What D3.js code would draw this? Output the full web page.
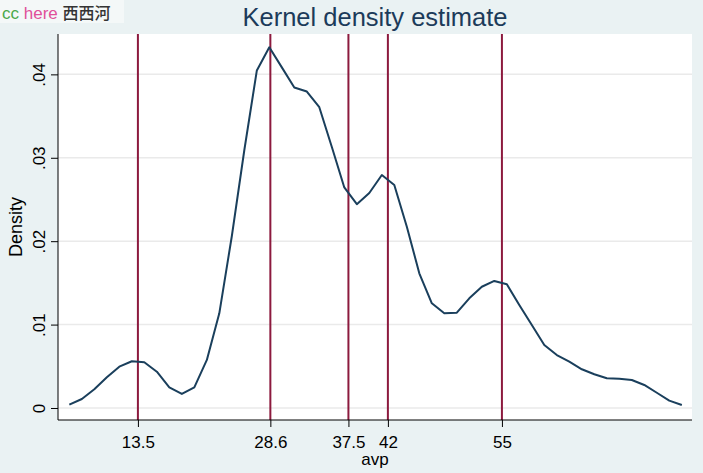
<!DOCTYPE html>
<html>
<head>
<meta charset="utf-8">
<script src="https://cdn.jsdelivr.net/npm/d3@7"></script>
<style>
  html, body { margin: 0; padding: 0; background: #eaf2f3; }
  svg { display: block; }
  text { font-family: "Liberation Sans", Arial, sans-serif; }
</style>
</head>
<body>
<svg id="chart" width="703" height="473"></svg>
<script>
// ---- data ----
const avp = [5.68, 7.11, 8.53, 9.96, 11.38, 12.81, 14.23, 15.66, 17.08, 18.51,
  19.93, 21.36, 22.78, 24.21, 25.63, 27.06, 28.48, 29.91, 31.33, 32.76,
  34.18, 35.61, 37.03, 38.46, 39.88, 41.31, 42.73, 44.16, 45.58, 47.01,
  48.43, 49.86, 51.28, 52.71, 54.13, 55.56, 56.98, 58.41, 59.83, 61.26,
  62.68, 64.11, 65.53, 66.96, 68.38, 69.81, 71.23, 72.66, 74.08, 75.51];
const density = [0.00040, 0.00108, 0.00224, 0.00368, 0.00495, 0.00560, 0.00548, 0.00435, 0.00248, 0.00168,
  0.00248, 0.00576, 0.01135, 0.02062, 0.03090, 0.04047, 0.04325, 0.04084, 0.03843, 0.03794,
  0.03606, 0.03129, 0.02644, 0.02444, 0.02578, 0.02794, 0.02674, 0.02174, 0.01615, 0.01255,
  0.01135, 0.01143, 0.01315, 0.01454, 0.01523, 0.01483, 0.01235, 0.00995, 0.00755, 0.00635,
  0.00555, 0.00464, 0.00404, 0.00356, 0.00351, 0.00336, 0.00276, 0.00183, 0.00088, 0.00036];
const xLines = [13.5, 28.6, 37.5, 42, 55];
const xTickLabels = ["13.5", "28.6", "37.5", "42", "55"];
const yTicks = [0, 0.01, 0.02, 0.03, 0.04];
const yTickLabels = ["0", ".01", ".02", ".03", ".04"];

// ---- layout ----
const svg = d3.select("#chart");
const L = 58, R = 692, T = 34, B = 420;

svg.append("rect").attr("width", 703).attr("height", 473).attr("fill", "#eaf2f3");
svg.append("rect").attr("x", L).attr("y", T).attr("width", R - L).attr("height", B - T).attr("fill", "#ffffff");

const x = d3.scaleLinear().domain([4.39, 76.67]).range([L, R]);
const y = d3.scaleLinear().domain([-0.00144, 0.04484]).range([B, T]);

// gridlines
svg.append("g").selectAll("line").data(yTicks).join("line")
  .attr("x1", L).attr("x2", R)
  .attr("y1", d => y(d)).attr("y2", d => y(d))
  .attr("stroke", "#eaeaea").attr("stroke-width", 1.5);

// vertical reference lines
svg.append("g").selectAll("line").data(xLines).join("line")
  .attr("x1", d => x(d)).attr("x2", d => x(d))
  .attr("y1", T).attr("y2", B)
  .attr("stroke", "#8c1a3e").attr("stroke-width", 2);

// density curve
const pts = avp.map((v, i) => [v, density[i]]);
svg.append("path").datum(pts)
  .attr("fill", "none").attr("stroke", "#1a3f5c").attr("stroke-width", 2)
  .attr("stroke-linejoin", "round")
  .attr("d", d3.line().x(d => x(d[0])).y(d => y(d[1])));

// y axis
const yAxis = d3.axisLeft(y).tickValues(yTicks).tickFormat((d, i) => yTickLabels[i]).tickSize(7).tickSizeOuter(0);
const gy = svg.append("g").attr("transform", `translate(${L},0)`).call(yAxis);
gy.select(".domain").attr("d", `M0,${T}V${B}`).attr("stroke", "#000");
gy.selectAll(".tick line").attr("stroke", "#000");
gy.selectAll(".tick text")
  .attr("font-size", 17).attr("fill", "#000")
  .attr("transform", "rotate(-90)")
  .attr("x", 0).attr("y", -13).attr("dy", 0)
  .attr("text-anchor", "middle");

// x axis
const xAxis = d3.axisBottom(x).tickValues(xLines).tickFormat((d, i) => xTickLabels[i]).tickSize(7).tickSizeOuter(0);
const gx = svg.append("g").attr("transform", `translate(0,${B})`).call(xAxis);
gx.select(".domain").attr("d", `M${L},0H${R}`).attr("stroke", "#000");
gx.selectAll(".tick line").attr("stroke", "#000");
gx.selectAll(".tick text").attr("font-size", 17).attr("fill", "#000").attr("y", 28).attr("dy", 0);

// axis titles
svg.append("text").attr("x", (L + R) / 2).attr("y", 465).attr("text-anchor", "middle")
  .attr("font-size", 17).attr("fill", "#000").text("avp");
svg.append("text").attr("transform", `translate(22,${(T + B) / 2}) rotate(-90)`)
  .attr("text-anchor", "middle").attr("font-size", 18).attr("fill", "#000").text("Density");

// title
svg.append("text").attr("x", (L + R) / 2).attr("y", 26).attr("text-anchor", "middle")
  .attr("font-size", 25.5).attr("fill", "#1c3b5a").text("Kernel density estimate");

// watermark
svg.append("rect").attr("x", 0).attr("y", 0).attr("width", 124).attr("height", 23).attr("fill", "#f4f8f8");
const wm = svg.append("text").attr("x", 2).attr("y", 19).attr("font-size", 17);
wm.append("tspan").attr("fill", "#4aa84a").text("cc ");
wm.append("tspan").attr("fill", "#e0509a").text("here ");
wm.append("tspan").attr("fill", "#333").attr("font-family", "Noto Sans CJK SC")
  .attr("font-size", 16).attr("font-weight", 500).text("西西河");
</script>
</body>
</html>
